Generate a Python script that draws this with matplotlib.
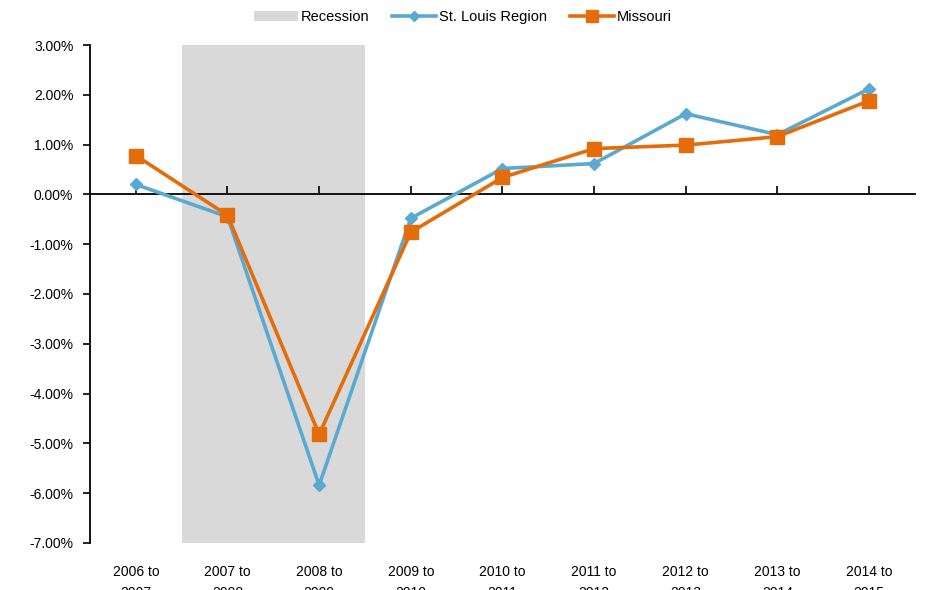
import numpy as np
import matplotlib.pyplot as plt
from matplotlib.patches import Patch
from matplotlib.lines import Line2D
from matplotlib.ticker import FuncFormatter

# category labels (second line is cut off by the picture edge)
periods = ["2006 to\n2007", "2007 to\n2008", "2008 to\n2009", "2009 to\n2010",
           "2010 to\n2011", "2011 to\n2012", "2012 to\n2013", "2013 to\n2014",
           "2014 to\n2015"]

# annual employment growth, percent
st_louis = [0.20, -0.45, -5.84, -0.48, 0.52, 0.62, 1.62, 1.20, 2.12]
missouri = [0.78, -0.42, -4.82, -0.76, 0.34, 0.92, 0.99, 1.16, 1.88]

# recession shading, in category units
recession_start = 0.5
recession_end = 2.5

blue = "#5aa9d0"
orange = "#e46c0a"
shade = "#d9d9d9"

plt.rcParams['font.family'] = ['Liberation Sans', 'DejaVu Sans']

fig = plt.figure(figsize=(9.26, 5.9), dpi=100)
ax = fig.add_axes([0.0972, 0.0797, 0.8908, 0.8440])

x = np.arange(len(periods))
ax.axvspan(recession_start, recession_end, color=shade, lw=0, zorder=0)
ax.plot(x, st_louis, color=blue, lw=2.6, marker="D", ms=6.5, zorder=3)
ax.plot(x, missouri, color=orange, lw=2.6, marker="s", ms=10, zorder=4)

ax.set_xlim(-0.5, len(periods) - 0.5)
ax.set_ylim(-7, 3)
ax.set_yticks(np.arange(-7, 3.5, 1))
ax.yaxis.set_major_formatter(FuncFormatter(lambda v, p: "%.2f%%" % v))
ax.tick_params(axis="y", direction="out", length=5, width=1.2,
               labelsize=10, colors="black", pad=7)

# horizontal axis crosses at zero, labels stay at the bottom
for s in ["top", "right"]:
    ax.spines[s].set_visible(False)
ax.spines["left"].set_linewidth(1.3)
ax.spines["bottom"].set_position(("data", 0))
ax.spines["bottom"].set_linewidth(1.3)
ax.set_xticks(x)
ax.tick_params(axis="x", direction="in", length=6, width=1.2,
               labelbottom=False)
for i, lab in enumerate(periods):
    ax.text(i, -0.045, lab, transform=ax.get_xaxis_transform(),
            ha="center", va="top", fontsize=10, linespacing=1.6)

handles = [Patch(facecolor=shade, edgecolor="none"),
           Line2D([], [], color=blue, lw=2.6, marker="D", ms=5),
           Line2D([], [], color=orange, lw=2.6, marker="s", ms=8)]
fig.legend(handles, ["Recession", "St. Louis Region", "Missouri"],
           loc="center", bbox_to_anchor=(0.5, 0.971), ncol=3, frameon=False,
           fontsize=10.5, handlelength=3.0, columnspacing=1.6, handletextpad=0.2)

fig.savefig("out.png", dpi=100)
